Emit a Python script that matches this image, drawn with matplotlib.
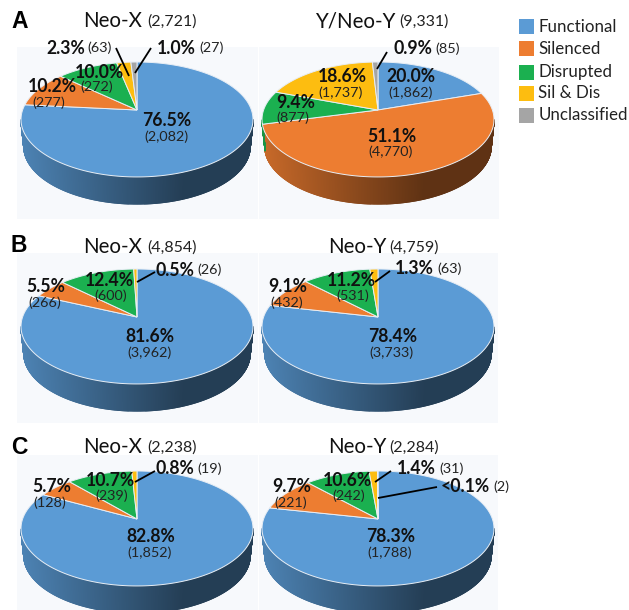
import numpy as np
import matplotlib
matplotlib.use('Agg')
import matplotlib.pyplot as plt
from matplotlib.patches import Rectangle

plt.rcParams['font.family'] = ['Lato', 'DejaVu Sans']

# datos
categorias = ['Functional', 'Silenced', 'Disrupted', 'Sil & Dis', 'Unclassified']
colores = ['#5b9bd5', '#ed7d31', '#1bb050', '#fdbd10', '#a5a5a5']

a_x = [2082, 277, 272, 63, 27]
a_y = [1862, 4770, 877, 1737, 85]
b_x = [3962, 266, 600, 26, 0]
b_y = [3733, 432, 531, 63, 0]
c_x = [1852, 128, 239, 19, 0]
c_y = [1788, 221, 242, 31, 2]

titulos = ['Neo-X', 'Y/Neo-Y', 'Neo-X', 'Neo-Y', 'Neo-X', 'Neo-Y']
totales = ['(2,721)', '(9,331)', '(4,854)', '(4,759)', '(2,238)', '(2,284)']

fig = plt.figure(figsize=(6.29, 6.10), dpi=100)
ax = fig.add_axes([0, 0, 1, 1])
ax.set_xlim(0, 629)
ax.set_ylim(610, 0)
ax.axis('off')

# parametros de la perspectiva
P = 0.165
SX = 114.4
SY = 55.9
GROSOR = 27
TAM_PCT = 12.7
TAM_N = 10.4


def proyectar(ang, cx, cy):
    # ang en radianes, sentido horario desde arriba
    x = np.sin(ang)
    y = np.cos(ang)
    w = 1 + P * y
    return cx + SX * x / w, cy - SY * y / w


def oscurecer(color, f):
    rgb = np.array(matplotlib.colors.to_rgb(color))
    return tuple(rgb * f)


def tarta(cx, cy, valores):
    total = sum(valores)
    x_min = cx - SX * 1.014
    x_max = cx + SX * 1.014
    # limite visible del lateral, donde la elipse es mas ancha
    lim = np.arcsin(P)
    ang_ini = 0.0
    for v, col in zip(valores, colores):
        ang_fin = ang_ini + 2 * np.pi * v / total
        t = np.linspace(ang_ini, ang_fin, max(int(v / total * 1080), 2))
        t = t[(t >= np.pi / 2 + lim) & (t <= 3 * np.pi / 2 - lim)]
        xs, ys = proyectar(t, cx, cy)
        xb = cx + (xs - cx) * 0.975
        for i in range(len(t) - 1):
            pos = (xs[i] - x_min) / (x_max - x_min)
            f = np.interp(pos, [0, 0.70, 1], [0.84, 0.40, 0.40])
            ax.fill([xs[i], xs[i + 1], xb[i + 1], xb[i]],
                    [ys[i], ys[i + 1], ys[i + 1] + GROSOR, ys[i] + GROSOR],
                    color=oscurecer(col, f), lw=1.0, zorder=2)
        ang_ini = ang_fin
    # tapa encima del lateral
    ang_ini = 0.0
    for v, col in zip(valores, colores):
        if v == 0:
            continue
        ang_fin = ang_ini + 2 * np.pi * v / total
        t = np.linspace(ang_ini, ang_fin, max(int(v / total * 720), 2))
        xs, ys = proyectar(t, cx, cy)
        ax.fill(np.r_[cx, xs], np.r_[cy, ys], facecolor=col,
                edgecolor='#e8eef5', lw=0.7, zorder=3)
        ang_ini = ang_fin


def etiqueta(xp, yp, pct, xn, yn, n):
    ax.text(xp, yp, pct, fontsize=TAM_PCT, fontweight='bold', ha='center', va='center',
            color='#111111', zorder=5)
    ax.text(xn, yn, n, fontsize=TAM_N, ha='center', va='center', color='#222222', zorder=5)


def en_linea(x, y, pct, n):
    t = ax.text(x, y, pct, fontsize=TAM_PCT, fontweight='bold', ha='left', va='center',
                color='#111111', zorder=5)
    fig.canvas.draw()
    bb = t.get_window_extent()
    ax.text(bb.x1 + 3, y, n, fontsize=TAM_N, ha='left', va='center', color='#222222', zorder=5)


def linea(x0, y0, x1, y1):
    ax.plot([x0, x1], [y0, y1], color='black', lw=1.3, zorder=6, solid_capstyle='butt')


# fondos claros de cada panel
for (x0, y0, w, h) in [(17, 47, 241, 172), (259, 47, 240, 172),
                       (17, 253, 241, 170), (259, 253, 239, 170),
                       (17, 455, 241, 155), (259, 455, 239, 155)]:
    ax.add_patch(Rectangle((x0, y0), w, h, facecolor='#f7f9fc', edgecolor='none', zorder=0))

tarta(137, 110, a_x)
tarta(378, 110, a_y)
tarta(137, 317, b_x)
tarta(378, 317, b_y)
tarta(137, 519, c_x)
tarta(378, 519, c_y)

# letras de panel
for letra, y in [('A', 21), ('B', 246), ('C', 448)]:
    ax.text(11, y, letra, fontsize=16.5, fontweight='bold', ha='left', va='center',
            family='Liberation Sans')

# titulos: x del nombre, x del total, y
pos_titulos = [(83, 147, 21), (315, 399, 21), (83, 147, 247),
               (328, 389, 247), (83, 147, 447), (328, 389, 447)]
for (x, xt, y), nom, tot in zip(pos_titulos, titulos, totales):
    ax.text(x, y, nom, fontsize=14.8, ha='left', va='center', color='#111111')
    ax.text(xt, y + 1, tot, fontsize=11.5, ha='left', va='center', color='#222222')

# panel A
etiqueta(167, 121, '76.5%', 166, 137, '(2,082)')
etiqueta(99, 72, '10.0%', 97, 87, '(272)')
etiqueta(52, 87, '10.2%', 49, 103, '(277)')
en_linea(46, 48, '2.3%', '(63)')
en_linea(157, 48, '1.0%', '(27)')
linea(116, 48, 129, 76)
linea(151, 48, 135, 73)

etiqueta(411, 77, '20.0%', 411, 93, '(1,862)')
etiqueta(342, 76, '18.6%', 341, 93, '(1,737)')
etiqueta(296, 103, '9.4%', 293, 118, '(877)')
etiqueta(392, 137, '51.1%', 391, 152, '(4,770)')
en_linea(393, 49, '0.9%', '(85)')
linea(387, 52, 377, 69)

# panel B
etiqueta(150, 337, '81.6%', 150, 353, '(3,962)')
etiqueta(109, 281, '12.4%', 111, 296, '(600)')
etiqueta(46, 287, '5.5%', 45, 303, '(266)')
en_linea(156, 270, '0.5%', '(26)')
linea(155, 272, 137, 282)

etiqueta(393, 337, '78.4%', 391, 353, '(3,733)')
etiqueta(351, 281, '11.2%', 353, 296, '(531)')
etiqueta(288, 286, '9.1%', 287, 303, '(432)')
en_linea(395, 269, '1.3%', '(63)')
linea(390, 271, 375, 282)

# panel C
etiqueta(151, 537, '82.8%', 150, 553, '(1,852)')
etiqueta(110, 480, '10.7%', 112, 496, '(239)')
etiqueta(52, 487, '5.7%', 50, 503, '(128)')
en_linea(156, 469, '0.8%', '(19)')
linea(155, 471, 135, 482)

etiqueta(391, 537, '78.3%', 390, 553, '(1,788)')
etiqueta(347, 480, '10.6%', 349, 496, '(242)')
etiqueta(292, 487, '9.7%', 291, 503, '(221)')
en_linea(397, 469, '1.4%', '(31)')
en_linea(441, 487, '<0.1%', '(2)')
linea(391, 471, 375, 482)
linea(437, 487, 378, 498)

# leyenda
ley_y = [26, 48, 72, 93, 115]
for nom, col, y in zip(categorias, colores, ley_y):
    ax.add_patch(Rectangle((519, y - 7.5), 15, 15, facecolor=col, edgecolor='none'))
    ax.text(538.5, y + 0.5, nom, fontsize=12.2, ha='left', va='center', color='#222222')

fig.savefig('out.png', dpi=100)
